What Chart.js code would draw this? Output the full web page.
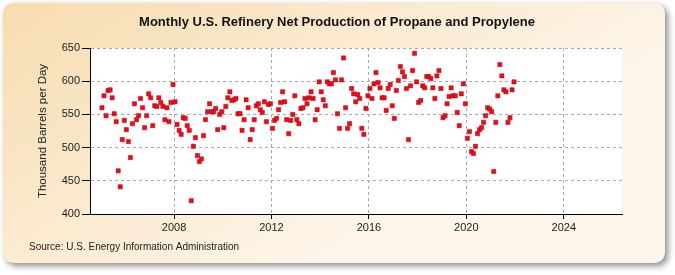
<!DOCTYPE html>
<html><head><meta charset="utf-8">
<script src="https://cdn.jsdelivr.net/npm/chart.js@4.4.1/dist/chart.umd.min.js"></script>
<style>html,body{margin:0;padding:0;background:#fff;overflow:hidden}
#wrap{position:relative;width:675px;height:275px}</style>
</head><body><div id="wrap"><canvas id="c" width="675" height="275"></canvas></div>
<script>
const chartTitle = 'Monthly U.S. Refinery Net Production of Propane and Propylene';
const yAxisTitle = 'Thousand Barrels per Day';
const sourceNote = 'Source: U.S. Energy Information Administration';
const xTickYears = [2008, 2012, 2016, 2020, 2024];
const yTickValues = [400, 450, 500, 550, 600, 650];
const firstYear = 2005;
const v2005 = [560, 578, 548, 586, 587, 575, 551, 539, 465, 441, 512, 541];
const v2006 = [527, 509, 485, 536, 566, 542, 548, 574, 560, 530, 548, 581];
const v2007 = [575, 533, 563, 562, 575, 568, 562, 542, 560, 539, 568, 595];
const v2008 = [569, 535, 526, 520, 545, 544, 533, 526, 420, 502, 515, 488];
const v2009 = [479, 483, 518, 542, 554, 566, 554, 554, 559, 527, 550, 554];
const v2010 = [530, 562, 575, 584, 571, 572, 574, 551, 551, 526, 542, 572];
const v2011 = [560, 512, 527, 542, 563, 566, 557, 553, 569, 539, 565, 566];
const v2012 = [529, 541, 544, 557, 568, 584, 569, 542, 521, 541, 550, 578];
const v2013 = [542, 536, 559, 560, 574, 566, 575, 584, 574, 542, 557, 599];
const v2014 = [584, 572, 563, 599, 596, 596, 613, 602, 551, 529, 602, 635];
const v2015 = [560, 529, 536, 589, 581, 569, 580, 574, 529, 520, 559, 578];
const v2016 = [589, 574, 596, 613, 598, 590, 575, 575, 556, 589, 595, 563];
const v2017 = [544, 586, 601, 622, 614, 607, 589, 512, 593, 616, 642, 599];
const v2018 = [568, 571, 593, 590, 607, 607, 604, 590, 574, 608, 616, 589];
const v2019 = [545, 548, 566, 577, 590, 578, 578, 553, 533, 581, 596, 566];
const v2020 = [514, 524, 494, 491, 502, 521, 527, 530, 538, 548, 560, 558];
const v2021 = [554, 464, 538, 578, 625, 608, 587, 584, 538, 545, 587, 599];
const yearlyValues = [v2005, v2006, v2007, v2008, v2009, v2010, v2011, v2012, v2013,
  v2014, v2015, v2016, v2017, v2018, v2019, v2020, v2021];

const points = [];
yearlyValues.forEach((arr, yi) => {
  arr.forEach((v, m) => points.push({ x: firstYear + yi + (m + 0.5) / 12, y: v }));
});

const FONT = "'Liberation Sans', Arial, sans-serif";

const decor = {
  id: 'decor',
  beforeDraw(chart) {
    const ctx = chart.ctx;
    const a = chart.chartArea;
    ctx.save();
    ctx.fillStyle = '#ffffff';
    ctx.fillRect(0, 0, chart.width, chart.height);
    const L = 3, T = 3, R = 665, B = 263, r = 12;
    ctx.beginPath();
    ctx.moveTo(L + r, T);
    ctx.lineTo(R - r, T); ctx.quadraticCurveTo(R, T, R, T + r);
    ctx.lineTo(R, B - r); ctx.quadraticCurveTo(R, B, R - r, B);
    ctx.lineTo(L + r, B); ctx.quadraticCurveTo(L, B, L, B - r);
    ctx.lineTo(L, T + r); ctx.quadraticCurveTo(L, T, L + r, T);
    ctx.closePath();
    ctx.shadowColor = 'rgba(0,0,0,0.45)';
    ctx.shadowBlur = 6;
    ctx.shadowOffsetX = 3;
    ctx.shadowOffsetY = 3;
    const g = ctx.createLinearGradient(0, 0, 200, 330);
    g.addColorStop(0, '#f7dcae');
    g.addColorStop(1, '#fdf5e9');
    ctx.fillStyle = g;
    ctx.fill();
    ctx.shadowColor = 'transparent';
    ctx.fillStyle = '#ffffff';
    ctx.fillRect(a.left, a.top, a.right - a.left, a.bottom - a.top);
    // title and source
    ctx.fillStyle = '#111';
    ctx.font = 'bold 13px ' + FONT;
    ctx.textAlign = 'center';
    ctx.textBaseline = 'middle';
    ctx.fillText(chartTitle, 337, 22);
    ctx.font = '10px ' + FONT;
    ctx.textAlign = 'left';
    ctx.fillStyle = '#222';
    ctx.fillText(sourceNote, 29, 247);
    ctx.restore();
  }
};

new Chart(document.getElementById('c'), {
  type: 'scatter',
  data: {
    datasets: [{
      data: points,
      pointStyle: 'rect',
      pointRadius: 3,
      pointHoverRadius: 3,
      backgroundColor: '#e3101b',
      borderColor: '#c0000d',
      borderWidth: 0.5
    }]
  },
  options: {
    responsive: false,
    animation: false,
    devicePixelRatio: 1,
    layout: { padding: { left: 0, right: 53, top: 48, bottom: 0 } },
    plugins: { legend: { display: false }, tooltip: { enabled: false }, title: { display: false } },
    scales: {
      x: {
        type: 'linear',
        min: 2004.55,
        max: 2026.39,
        afterFit(s) { s.height = 61; },
        afterBuildTicks(s) { s.ticks = xTickYears.map(v => ({ value: v })); },
        ticks: { color: '#222', font: { family: FONT, size: 11 }, padding: 2, maxRotation: 0, autoSkip: false,
          callback: v => String(v) },
        grid: { color: '#a8a8a8', lineWidth: 1, tickColor: '#000', tickLength: 5, drawOnChartArea: true },
        border: { color: '#000', width: 1, dash: [3, 3] }
      },
      y: {
        min: 400,
        max: 650,
        afterFit(s) { s.width = 90; },
        afterBuildTicks(s) { s.ticks = yTickValues.map(v => ({ value: v })); },
        ticks: { color: '#222', font: { family: FONT, size: 11 }, padding: 2 },
        grid: { color: '#a8a8a8', lineWidth: 1, tickColor: '#000', tickLength: 8 },
        border: { color: '#000', width: 1, dash: [3, 3] },
        title: { display: true, text: yAxisTitle, color: '#222', font: { family: FONT, size: 11.5 }, padding: { top: 36, bottom: 0 } }
      }
    }
  },
  plugins: [decor]
});
</script></body></html>
